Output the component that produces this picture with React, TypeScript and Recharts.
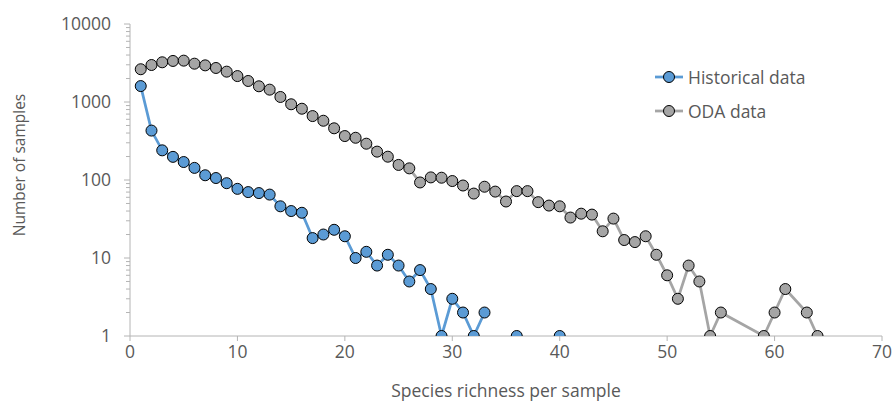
import { Legend, Line, LineChart, XAxis, YAxis } from "recharts";

// species richness per sample (x)
const richness = [
  1, 2, 3, 4, 5, 6, 7, 8, 9, 10, 11, 12, 13, 14, 15, 16, 17, 18, 19, 20, 21, 22,
  23, 24, 25, 26, 27, 28, 29, 30, 31, 32, 33, 34, 35, 36, 37, 38, 39, 40, 41, 42,
  43, 44, 45, 46, 47, 48, 49, 50, 51, 52, 53, 54, 55, 56, 57, 58, 59, 60, 61, 62,
  63, 64
];

const historical: (number | null)[] = [
  1600, 430, 240, 198, 170, 143, 115, 106, 91, 77, 70, 68, 65, 46, 40, 38, 18, 20,
  23, 19, 10, 12, 8, 11, 8, 5, 7, 4, 1, 3, 2, 1, 2, null, null, 1, null, null,
  null, 1, null, null, null, null, null, null, null, null, null, null, null, null,
  null, null, null, null, null, null, null, null, null, null, null, null
];

const oda: (number | null)[] = [
  2630, 2980, 3230, 3360, 3390, 3100, 2950, 2730, 2450, 2150, 1860, 1590, 1440,
  1160, 935, 820, 660, 575, 460, 366, 348, 292, 231, 199, 156, 141, 93, 108, 107,
  97, 85, 67, 82, 71, 53, 72, 72, 52, 47, 46, 33, 37, 36, 22, 32, 17, 16, 19, 11,
  6, 3, 8, 5, 1, 2, null, null, null, 1, 2, 4, null, 2, 1
];

const xTicks = [0, 10, 20, 30, 40, 50, 60, 70];
const decades = [1, 10, 100, 1000, 10000];
const yTicks = decades.flatMap((d) =>
  d === 10000 ? [d] : [1, 2, 3, 4, 5, 6, 7, 8, 9].map((m) => m * d)
);

const data = richness.map((x, i) => ({
  x,
  historical: historical[i],
  oda: oda[i]
}));

const textColor = "#595959";
const axisColor = "#b4b4b4";
const font = "'Open Sans', sans-serif";
const fontSize = 17.5;

function LogTick(props: any) {
  const { x, y, payload } = props;
  const value = payload.value as number;
  const major = decades.includes(value);
  return (
    <g>
      <line x1={x - (major ? 6 : 4)} x2={x} y1={y} y2={y} stroke={axisColor} />
      {major && (
        <text
          x={x - 19}
          y={y}
          dy="0.35em"
          textAnchor="end"
          fill={textColor}
          fontSize={fontSize}
          fontFamily={font}
        >
          {value}
        </text>
      )}
    </g>
  );
}

function LegendBox(props: any) {
  const items = props.payload ?? [];
  return (
    <div style={{ fontFamily: font, fontSize, color: textColor }}>
      {items.map((item: any) => (
        <div
          key={item.value}
          style={{ display: "flex", alignItems: "center", height: 34 }}
        >
          <svg width={32} height={14} style={{ marginRight: 3 }}>
            <line x1={2} x2={30} y1={7} y2={7} stroke={item.color} strokeWidth={2.75} />
            <circle cx={16} cy={7} r={5.5} fill={item.color} stroke="#000" />
          </svg>
          <span>{item.value}</span>
        </div>
      ))}
    </div>
  );
}

export default function App() {
  return (
    <div style={{ position: "absolute", left: 0, top: 0, background: "#fff" }}>
      <LineChart
        width={893}
        height={401}
        data={data}
        margin={{ top: 24, right: 11, bottom: 0, left: 0 }}
      >
        <XAxis
          dataKey="x"
          type="number"
          domain={[0, 70]}
          ticks={xTicks}
          height={65}
          stroke={axisColor}
          tickSize={5}
          tickMargin={5}
          tick={{ fill: textColor, fontSize, fontFamily: font }}
          label={(p: any) => (
            <text
              x={p.viewBox.x + p.viewBox.width / 2}
              y={p.viewBox.y + 61}
              textAnchor="middle"
              fill={textColor}
              fontSize={fontSize}
              fontFamily={font}
            >
              Species richness per sample
            </text>
          )}
        />
        <YAxis
          scale="log"
          domain={[1, 10000]}
          allowDataOverflow
          ticks={yTicks}
          interval={0}
          width={130}
          stroke={axisColor}
          tickLine={false}
          tickSize={0}
          tickMargin={0}
          tick={<LogTick />}
          label={(p: any) => {
            const cx = p.viewBox.x + 19;
            const cy = p.viewBox.y + p.viewBox.height / 2 - 15;
            return (
              <text
                x={cx}
                y={cy}
                transform={`rotate(-90, ${cx}, ${cy})`}
                textAnchor="middle"
                dominantBaseline="central"
                fill={textColor}
                fontSize={15.5}
                fontFamily={font}
              >
                Number of samples
              </text>
            );
          }}
        />
        <Legend
          layout="vertical"
          align="center"
          verticalAlign="middle"
          content={<LegendBox />}
          wrapperStyle={{ left: 653, top: 60, width: 200 }}
        />
        <Line
          name="Historical data"
          dataKey="historical"
          stroke="#5b9bd5"
          strokeWidth={2.75}
          dot={{ r: 5.5, fill: "#5b9bd5", stroke: "#000", strokeWidth: 1 }}
          isAnimationActive={false}
          connectNulls={false}
        />
        <Line
          name="ODA data"
          dataKey="oda"
          stroke="#a5a5a5"
          strokeWidth={2.75}
          dot={{ r: 5.5, fill: "#a5a5a5", stroke: "#000", strokeWidth: 1 }}
          isAnimationActive={false}
          connectNulls
        />
      </LineChart>
    </div>
  );
}
